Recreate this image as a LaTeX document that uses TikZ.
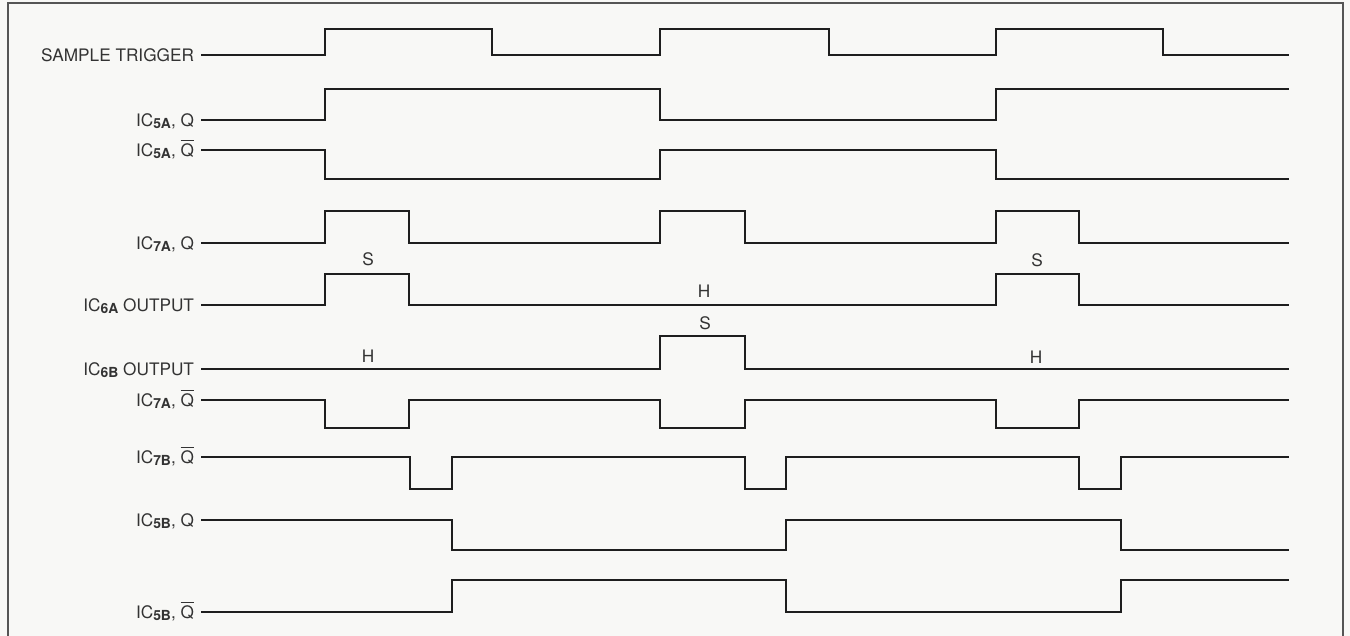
\documentclass[tikz,border=0pt]{standalone}
\usepackage{fontspec}
\setmainfont{TeX Gyre Heros}
\usepackage{tikz}
\usetikzlibrary{positioning}
\definecolor{TimePaper}{HTML}{F8F8F6}
\definecolor{TimeInk}{HTML}{1E1E1E}
\definecolor{TimeText}{HTML}{333333}
\definecolor{TimeFrame}{HTML}{555555}
\newcommand{\icsub}[1]{\raisebox{-0.25ex}{\fontsize{7.9}{8}\selectfont\bfseries #1}}
\newcommand{\qbar}{$\overline{\mbox{Q}}$}
\tikzset{
  wave/.style={line width=1.4pt, draw=TimeInk, line join=miter},
  siglabel/.style={anchor=east, text=TimeText, inner sep=0pt, outer sep=0pt,
                   text height=7pt, text depth=0pt, xshift=-4pt},
  statelabel/.style={text=TimeText, inner sep=0pt, text height=7pt, text depth=0pt},
  frame/.style={draw=TimeFrame, line width=0.7pt},
}
\begin{document}
\begin{tikzpicture}[x=0.02cm, y=-0.02cm, font=\fontsize{9.8}{11}\selectfont]
  \fill[TimePaper] (0,0) rectangle (1350,636);
  \useasboundingbox (0,0) rectangle (1350,636);
  \draw[frame] (8,636) |- (1343,3) -- (1343,636);

  \coordinate (st0) at (201,55);
  \coordinate (q5a0) at (201,120);
  \coordinate (nq5a0) at (201,150);
  \coordinate (q7a0) at (201,243);
  \coordinate (o6a0) at (201,305);
  \coordinate (o6b0) at (201,369);
  \coordinate (nq7a0) at (201,400);
  \coordinate (nq7b0) at (201,457);
  \coordinate (q5b0) at (201,520);
  \coordinate (nq5b0) at (201,612);

  \node[siglabel] (st) at (st0) {SAMPLE TRIGGER};
  \node[siglabel] (q5a) at (q5a0) {IC\icsub{5A}, Q};
  \node[siglabel] (nq5a) at (nq5a0) {IC\icsub{5A}, \qbar};
  \node[siglabel] (q7a) at (q7a0) {IC\icsub{7A}, Q};
  \node[siglabel] (o6a) at (o6a0) {IC\icsub{6A} OUTPUT};
  \node[siglabel] (o6b) at (o6b0) {IC\icsub{6B} OUTPUT};
  \node[siglabel] (nq7a) at (nq7a0) {IC\icsub{7A}, \qbar};
  \node[siglabel] (nq7b) at (nq7b0) {IC\icsub{7B}, \qbar};
  \node[siglabel] (q5b) at (q5b0) {IC\icsub{5B}, Q};
  \node[siglabel] (nq5b) at (nq5b0) {IC\icsub{5B}, \qbar};

  \draw[wave] (st0) -| (325,29) -| (492,55) -| (660,29) -| (829,55)
    -| (996,29) -| (1163,55) -- (1289,55);
  \draw[wave] (q5a0) -| (325,89) -| (660,120) -| (996,89) -- (1289,89);
  \draw[wave] (nq5a0) -| (325,179) -| (660,150) -| (996,179) -- (1289,179);
  \draw[wave] (q7a0) -| (325,211) -| (409,243) -| (660,211) -| (745,243)
    -| (996,211) -| (1079,243) -- (1289,243);
  \draw[wave] (o6a0) -| (325,274) -| (409,305) -| (996,274) -| (1079,305)
    -- (1289,305);
  \draw[wave] (o6b0) -| (660,336) -| (745,369) -- (1289,369);
  \draw[wave] (nq7a0) -| (325,428) -| (409,400) -| (660,428) -| (745,400)
    -| (996,428) -| (1079,400) -- (1289,400);
  \draw[wave] (nq7b0) -| (410,489) -| (452,457) -| (745,489) -| (786,457)
    -| (1079,489) -| (1121,457) -- (1289,457);
  \draw[wave] (q5b0) -| (452,550) -| (786,520) -| (1121,550) -- (1289,550);
  \draw[wave] (nq5b0) -| (452,580) -| (786,612) -| (1121,580) -- (1289,580);

  \node[statelabel] (s1) at (368,259) {S};
  \node[statelabel] (h1) at (704,291) {H};
  \node[statelabel] (s2) at (1037,260) {S};
  \node[statelabel] (h2) at (368,356) {H};
  \node[statelabel] (s3) at (705,323) {S};
  \node[statelabel] (h3) at (1036,357) {H};
\end{tikzpicture}
\end{document}
